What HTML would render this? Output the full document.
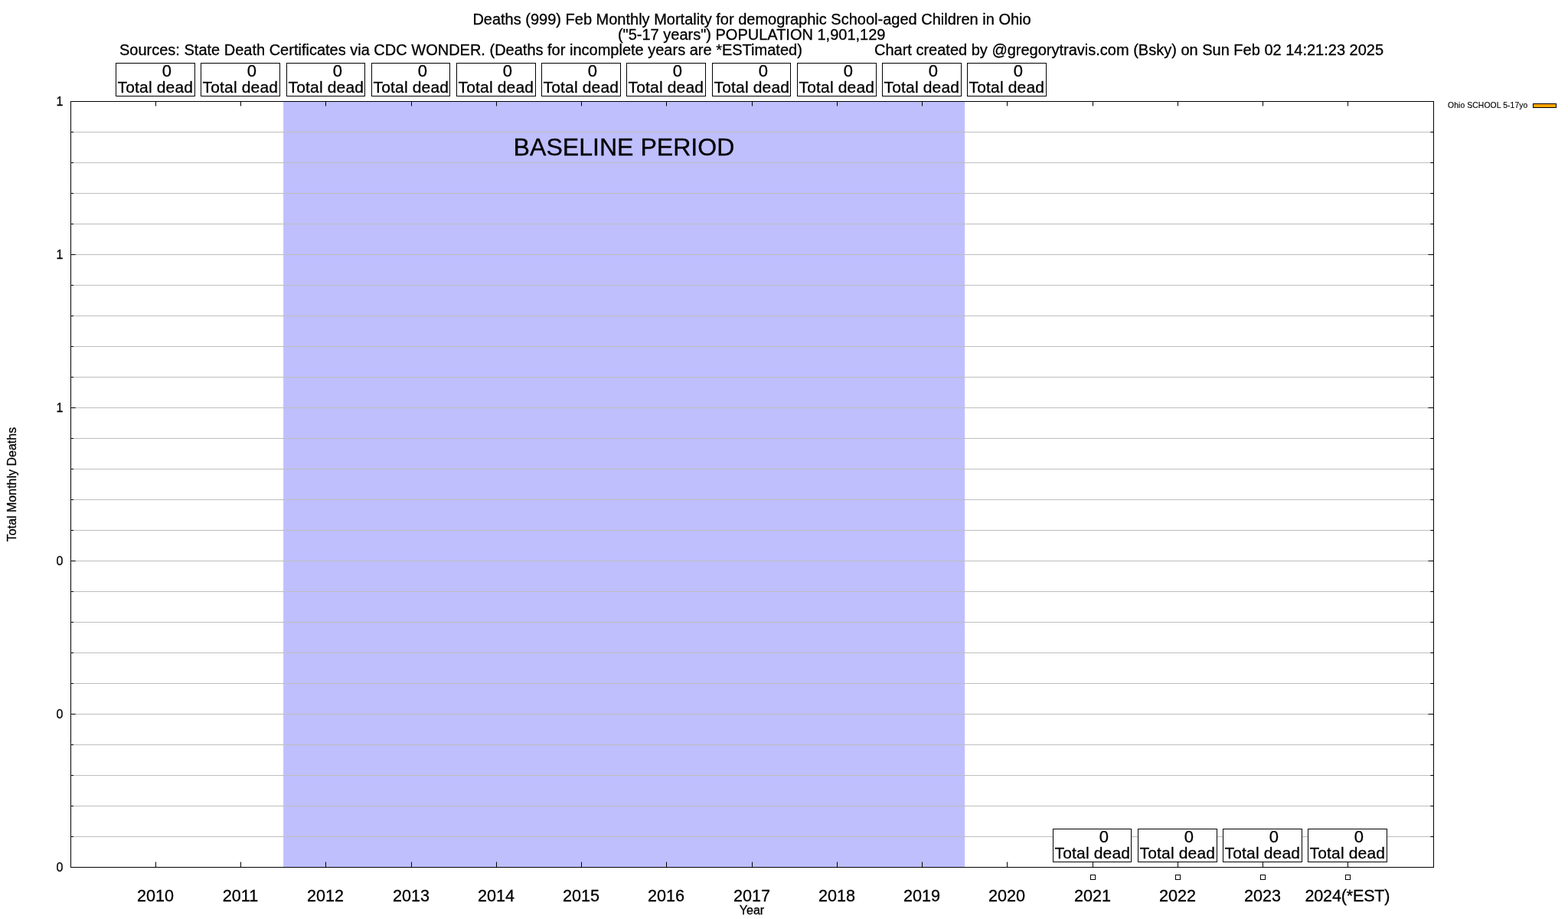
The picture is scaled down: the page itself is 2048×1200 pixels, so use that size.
<!DOCTYPE html>
<html lang="en"><head><meta charset="utf-8"><title>Deaths (999) Feb Monthly Mortality - Ohio</title>
<style>
html,body{margin:0;padding:0;background:#fff;}
body{width:2048px;height:1200px;overflow:hidden;}
svg{display:block;font-family:"Liberation Sans",Arial,Helvetica,sans-serif;}
text{fill:#000;stroke:#000;stroke-width:0.3px;}
.ax{stroke:#000;stroke-width:1;fill:none;}
.gr{stroke:#bebebe;stroke-width:1;fill:none;}
.bx{stroke:#000;stroke-width:1;fill:#fff;}
.t20{font-size:20px;}
.tb{font-size:21px;}
.tz{font-size:22px;text-anchor:middle;}
.tx{font-size:21.6px;text-anchor:middle;}
.ty{font-size:16px;text-anchor:end;}
</style></head><body>
<svg width="2048" height="1200" viewBox="0 0 2048 1200">
<rect x="0" y="0" width="2048" height="1200" fill="#fff"/>
<text class="t20" x="982" y="31.5" text-anchor="middle">Deaths (999) Feb Monthly Mortality for demographic School-aged Children in Ohio</text>
<text class="t20" x="981.7" y="51.5" text-anchor="middle">("5-17 years") POPULATION 1,901,129</text>
<text class="t20" x="156" y="71.5">Sources: State Death Certificates via CDC WONDER. (Deaths for incomplete years are *ESTimated)</text>
<text class="t20" x="1142" y="71.5">Chart created by @gregorytravis.com (Bsky) on Sun Feb 02 14:21:23 2025</text>
<rect x="370.10" y="132.5" width="890.00" height="1000.0" fill="#bfbffe"/>
<text x="815" y="203.1" font-size="32.1" text-anchor="middle">BASELINE PERIOD</text>
<path class="gr" d="M92.5 172.5H1872.5M92.5 212.5H1872.5M92.5 252.5H1872.5M92.5 292.5H1872.5M92.5 332.5H1872.5M92.5 372.5H1872.5M92.5 412.5H1872.5M92.5 452.5H1872.5M92.5 492.5H1872.5M92.5 532.5H1872.5M92.5 572.5H1872.5M92.5 612.5H1872.5M92.5 652.5H1872.5M92.5 692.5H1872.5M92.5 732.5H1872.5M92.5 772.5H1872.5M92.5 812.5H1872.5M92.5 852.5H1872.5M92.5 892.5H1872.5M92.5 932.5H1872.5M92.5 972.5H1872.5M92.5 1012.5H1872.5M92.5 1052.5H1872.5M92.5 1092.5H1872.5"/>
<path class="ax" d="M92.5 132.5h6.2M1872.5 132.5h-7M92.5 172.5h3.5M1872.5 172.5h-4.2M92.5 212.5h3.5M1872.5 212.5h-4.2M92.5 252.5h3.5M1872.5 252.5h-4.2M92.5 292.5h3.5M1872.5 292.5h-4.2M92.5 332.5h6.2M1872.5 332.5h-7M92.5 372.5h3.5M1872.5 372.5h-4.2M92.5 412.5h3.5M1872.5 412.5h-4.2M92.5 452.5h3.5M1872.5 452.5h-4.2M92.5 492.5h3.5M1872.5 492.5h-4.2M92.5 532.5h6.2M1872.5 532.5h-7M92.5 572.5h3.5M1872.5 572.5h-4.2M92.5 612.5h3.5M1872.5 612.5h-4.2M92.5 652.5h3.5M1872.5 652.5h-4.2M92.5 692.5h3.5M1872.5 692.5h-4.2M92.5 732.5h6.2M1872.5 732.5h-7M92.5 772.5h3.5M1872.5 772.5h-4.2M92.5 812.5h3.5M1872.5 812.5h-4.2M92.5 852.5h3.5M1872.5 852.5h-4.2M92.5 892.5h3.5M1872.5 892.5h-4.2M92.5 932.5h6.2M1872.5 932.5h-7M92.5 972.5h3.5M1872.5 972.5h-4.2M92.5 1012.5h3.5M1872.5 1012.5h-4.2M92.5 1052.5h3.5M1872.5 1052.5h-4.2M92.5 1092.5h3.5M1872.5 1092.5h-4.2M92.5 1132.5h6.2M1872.5 1132.5h-7M203.5 1132.5v-7M203.5 132.5v6M314.5 1132.5v-7M314.5 132.5v6M425.5 1132.5v-7M425.5 132.5v6M537.5 1132.5v-7M537.5 132.5v6M648.5 1132.5v-7M648.5 132.5v6M759.5 1132.5v-7M759.5 132.5v6M870.5 1132.5v-7M870.5 132.5v6M982.5 1132.5v-7M982.5 132.5v6M1093.5 1132.5v-7M1093.5 132.5v6M1204.5 1132.5v-7M1204.5 132.5v6M1315.5 1132.5v-7M1315.5 132.5v6M1427.5 1132.5v-7M1427.5 132.5v6M1538.5 1132.5v-7M1538.5 132.5v6M1649.5 1132.5v-7M1649.5 132.5v6M1760.5 1132.5v-7M1760.5 132.5v6"/>
<rect class="ax" x="92.5" y="132.5" width="1780.0" height="1000.0"/>
<text class="ty" x="82.3" y="138.0">1</text>
<text class="ty" x="82.3" y="338.0">1</text>
<text class="ty" x="82.3" y="538.0">1</text>
<text class="ty" x="82.3" y="738.0">0</text>
<text class="ty" x="82.3" y="938.0">0</text>
<text class="ty" x="82.3" y="1138.0">0</text>
<text class="tx" x="203.00" y="1177">2010</text>
<text class="tx" x="314.00" y="1177">2011</text>
<text class="tx" x="425.00" y="1177">2012</text>
<text class="tx" x="537.00" y="1177">2013</text>
<text class="tx" x="648.00" y="1177">2014</text>
<text class="tx" x="759.00" y="1177">2015</text>
<text class="tx" x="870.00" y="1177">2016</text>
<text class="tx" x="982.00" y="1177">2017</text>
<text class="tx" x="1093.00" y="1177">2018</text>
<text class="tx" x="1204.00" y="1177">2019</text>
<text class="tx" x="1315.00" y="1177">2020</text>
<text class="tx" x="1427.00" y="1177">2021</text>
<text class="tx" x="1538.00" y="1177">2022</text>
<text class="tx" x="1649.00" y="1177">2023</text>
<text class="tx" x="1760.00" y="1177" textLength="111.1" lengthAdjust="spacing">2024(*EST)</text>
<text x="982" y="1193.5" font-size="16" text-anchor="middle">Year</text>
<text transform="translate(21.3,632.5) rotate(-90)" font-size="16" text-anchor="middle">Total Monthly Deaths</text>
<rect class="bx" x="151.5" y="82.5" width="103.0" height="43"/>
<text class="tz" x="217.9" y="100.4">0</text>
<text class="tb" x="153.6" y="121.0" textLength="98.4" lengthAdjust="spacing">Total dead</text>
<rect class="bx" x="262.5" y="82.5" width="103.0" height="43"/>
<text class="tz" x="328.9" y="100.4">0</text>
<text class="tb" x="264.6" y="121.0" textLength="98.4" lengthAdjust="spacing">Total dead</text>
<rect class="bx" x="374.5" y="82.5" width="102.0" height="43"/>
<text class="tz" x="440.9" y="100.4">0</text>
<text class="tb" x="376.6" y="121.0" textLength="98.4" lengthAdjust="spacing">Total dead</text>
<rect class="bx" x="485.5" y="82.5" width="102.0" height="43"/>
<text class="tz" x="551.9" y="100.4">0</text>
<text class="tb" x="487.6" y="121.0" textLength="98.4" lengthAdjust="spacing">Total dead</text>
<rect class="bx" x="596.5" y="82.5" width="103.0" height="43"/>
<text class="tz" x="662.9" y="100.4">0</text>
<text class="tb" x="598.6" y="121.0" textLength="98.4" lengthAdjust="spacing">Total dead</text>
<rect class="bx" x="707.5" y="82.5" width="103.0" height="43"/>
<text class="tz" x="773.9" y="100.4">0</text>
<text class="tb" x="709.6" y="121.0" textLength="98.4" lengthAdjust="spacing">Total dead</text>
<rect class="bx" x="818.5" y="82.5" width="103.0" height="43"/>
<text class="tz" x="884.9" y="100.4">0</text>
<text class="tb" x="820.6" y="121.0" textLength="98.4" lengthAdjust="spacing">Total dead</text>
<rect class="bx" x="930.5" y="82.5" width="102.0" height="43"/>
<text class="tz" x="996.9" y="100.4">0</text>
<text class="tb" x="932.6" y="121.0" textLength="98.4" lengthAdjust="spacing">Total dead</text>
<rect class="bx" x="1041.5" y="82.5" width="103.0" height="43"/>
<text class="tz" x="1107.9" y="100.4">0</text>
<text class="tb" x="1043.6" y="121.0" textLength="98.4" lengthAdjust="spacing">Total dead</text>
<rect class="bx" x="1152.5" y="82.5" width="103.0" height="43"/>
<text class="tz" x="1218.9" y="100.4">0</text>
<text class="tb" x="1154.6" y="121.0" textLength="98.4" lengthAdjust="spacing">Total dead</text>
<rect class="bx" x="1263.5" y="82.5" width="103.0" height="43"/>
<text class="tz" x="1329.9" y="100.4">0</text>
<text class="tb" x="1265.6" y="121.0" textLength="98.4" lengthAdjust="spacing">Total dead</text>
<rect class="bx" x="1375.5" y="1082.5" width="102.0" height="43"/>
<text class="tz" x="1441.9" y="1100.4">0</text>
<text class="tb" x="1377.6" y="1121.0" textLength="98.4" lengthAdjust="spacing">Total dead</text>
<rect class="bx" x="1486.5" y="1082.5" width="103.0" height="43"/>
<text class="tz" x="1552.9" y="1100.4">0</text>
<text class="tb" x="1488.6" y="1121.0" textLength="98.4" lengthAdjust="spacing">Total dead</text>
<rect class="bx" x="1597.5" y="1082.5" width="103.0" height="43"/>
<text class="tz" x="1663.9" y="1100.4">0</text>
<text class="tb" x="1599.6" y="1121.0" textLength="98.4" lengthAdjust="spacing">Total dead</text>
<rect class="bx" x="1708.5" y="1082.5" width="103.0" height="43"/>
<text class="tz" x="1774.9" y="1100.4">0</text>
<text class="tb" x="1710.6" y="1121.0" textLength="98.4" lengthAdjust="spacing">Total dead</text>
<rect class="ax" x="1424.5" y="1142.5" width="6" height="6"/>
<rect class="ax" x="1535.5" y="1142.5" width="6" height="6"/>
<rect class="ax" x="1646.5" y="1142.5" width="6" height="6"/>
<rect class="ax" x="1757.5" y="1142.5" width="6" height="6"/>
<text x="1891" y="140.7" font-size="10.3" style="stroke-width:0.15px" textLength="104.3" lengthAdjust="spacing">Ohio SCHOOL 5-17yo</text>
<rect x="2002.5" y="135.5" width="30" height="5" fill="#ffa500" stroke="#000" stroke-width="1"/>
</svg></body></html>
